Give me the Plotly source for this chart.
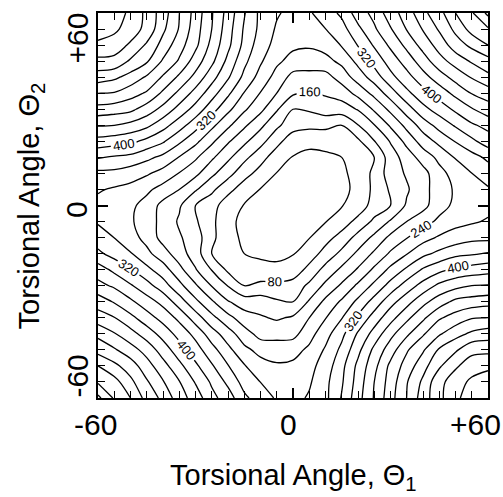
import plotly.graph_objects as go

# Axis values (degrees)
theta_10 = [-60, -50, -40, -30, -20, -10, 0, 10, 20, 30, 40, 50, 60]
theta_centres = [-55, -45, -35, -25, -15, -5, 5, 15, 25, 35, 45, 55]

# Energy read from the contour map at the 10-degree nodes
# (rows: theta2 = -60 ... +60, columns: theta1 = -60 ... +60)
energy_nodes = [
    [730, 640, 550, 462, 380, 300, 268, 310, 425, 545, 660, 755, 790],
    [640, 580, 495, 408, 322, 255, 248, 298, 410, 530, 625, 715, 755],
    [550, 495, 425, 348, 258, 185, 187, 265, 365, 468, 555, 625, 660],
    [462, 408, 348, 250, 163, 140, 120, 210, 290, 385, 468, 530, 545],
    [380, 322, 258, 163, 72, 52, 55, 133, 205, 290, 365, 410, 425],
    [300, 255, 185, 140, 52, 17, 15, 64, 133, 210, 265, 298, 310],
    [268, 248, 187, 120, 55, 15, 0, 15, 55, 120, 187, 248, 268],
    [310, 298, 265, 210, 133, 64, 15, 17, 52, 140, 185, 255, 300],
    [425, 410, 365, 290, 205, 133, 55, 52, 72, 163, 258, 322, 380],
    [545, 530, 468, 385, 290, 210, 120, 140, 163, 250, 348, 408, 462],
    [660, 625, 555, 468, 365, 265, 187, 185, 258, 348, 425, 495, 550],
    [755, 715, 625, 530, 410, 298, 248, 255, 322, 408, 495, 580, 640],
    [790, 755, 660, 545, 425, 310, 268, 300, 380, 462, 550, 640, 730],
]

# Energy read at the centres of the 10-degree cells
# (rows: theta2 = -55 ... +55, columns: theta1 = -55 ... +55)
energy_centres = [
    [655, 565, 482, 394, 305, 258, 275, 355, 480, 597, 710, 770],
    [565, 505, 418, 335, 250, 220, 248, 330, 450, 555, 645, 710],
    [482, 418, 350, 252, 178, 155, 200, 278, 378, 470, 555, 597],
    [394, 335, 252, 158, 80, 88, 128, 207, 290, 378, 450, 480],
    [305, 250, 178, 80, 40, 25, 58, 130, 207, 278, 330, 355],
    [258, 220, 155, 88, 25, 4, 18, 58, 128, 200, 248, 275],
    [275, 248, 200, 128, 58, 18, 4, 25, 88, 155, 220, 258],
    [355, 330, 278, 207, 130, 58, 25, 40, 80, 178, 250, 305],
    [480, 450, 378, 290, 207, 128, 88, 80, 158, 252, 335, 394],
    [597, 555, 470, 378, 278, 200, 155, 178, 252, 350, 418, 482],
    [710, 645, 555, 450, 330, 248, 220, 250, 335, 418, 505, 565],
    [770, 710, 597, 480, 355, 275, 258, 305, 394, 482, 565, 655],
]

tick_vals = [-60, 0, 60]
tick_text = ["-60", "0", "+60"]
x_title = "Torsional Angle, \u0398<sub>1</sub>"
y_title = "Torsional Angle, \u0398<sub>2</sub>"

# Assemble one 5-degree table (the remaining nodes are left for Plotly to fill)
theta = sorted(theta_10 + theta_centres)
n = len(theta)
z = [[None] * n for _ in range(n)]
for i, row in enumerate(energy_nodes):
    for j, val in enumerate(row):
        z[2 * i][2 * j] = val
for i, row in enumerate(energy_centres):
    for j, val in enumerate(row):
        z[2 * i + 1][2 * j + 1] = val

FONT = "Liberation Sans, Arial, Helvetica, sans-serif"
line_style = dict(color="black", width=1.3, smoothing=1.0)

fig = go.Figure()
common = dict(x=theta, y=theta, z=z, showscale=False, hoverinfo="skip",
              connectgaps=True, autocontour=False)
# unlabeled levels 40, 120, ..., 760
fig.add_trace(go.Contour(**common,
    contours=dict(start=40, end=760, size=80, coloring="none"),
    line=line_style))
# labeled levels 80, 160, 240, 320, 400
fig.add_trace(go.Contour(**common,
    contours=dict(start=80, end=400, size=80, coloring="none",
                  showlabels=True,
                  labelfont=dict(size=13, color="black", family=FONT)),
    line=line_style))
# unlabeled levels 480, 560, ..., 800
fig.add_trace(go.Contour(**common,
    contours=dict(start=480, end=800, size=80, coloring="none"),
    line=line_style))

axis_common = dict(
    range=[-60, 60], showline=True, linecolor="black", linewidth=2,
    mirror="allticks", ticks="inside", tickvals=tick_vals, ticklen=10,
    tickwidth=1.5, tickcolor="black", showticklabels=False,
    showgrid=False, zeroline=False,
    minor=dict(ticks="inside", dtick=5, ticklen=7, tickwidth=1.2,
               tickcolor="black", showgrid=False),
)
fig.update_xaxes(**axis_common)
fig.update_yaxes(**axis_common)

annotations = []
x_shifts = [-3, -5, -13]
for v, t, s in zip(tick_vals, tick_text, x_shifts):
    annotations.append(dict(x=v, xref="x", y=0, yref="paper", text=t,
                            showarrow=False, xanchor="center", yanchor="middle",
                            xshift=s, yshift=-26,
                            font=dict(size=30, color="black", family=FONT)))
y_shifts = [22, -4, -25]
for v, t, s in zip(tick_vals, tick_text, y_shifts):
    annotations.append(dict(x=-0.055, xref="paper", y=v, yref="y", text=t,
                            showarrow=False, xanchor="center", yanchor="middle",
                            yshift=s, textangle=-90,
                            font=dict(size=30, color="black", family=FONT)))
annotations.append(dict(x=0.5, xref="paper", y=-0.205, yref="paper", text=x_title,
                        showarrow=False, xanchor="center", yanchor="middle",
                        font=dict(size=29, color="black", family=FONT)))
annotations.append(dict(x=-0.172, xref="paper", y=0.5, yref="paper", text=y_title,
                        showarrow=False, xanchor="center", yanchor="middle",
                        textangle=-90,
                        font=dict(size=29, color="black", family=FONT)))

fig.update_layout(
    width=503, height=497,
    margin=dict(l=98, r=15, t=13, b=99),
    paper_bgcolor="white", plot_bgcolor="white",
    showlegend=False,
    annotations=annotations,
    font=dict(family=FONT, color="black"),
)

fig.write_html("out.html")
